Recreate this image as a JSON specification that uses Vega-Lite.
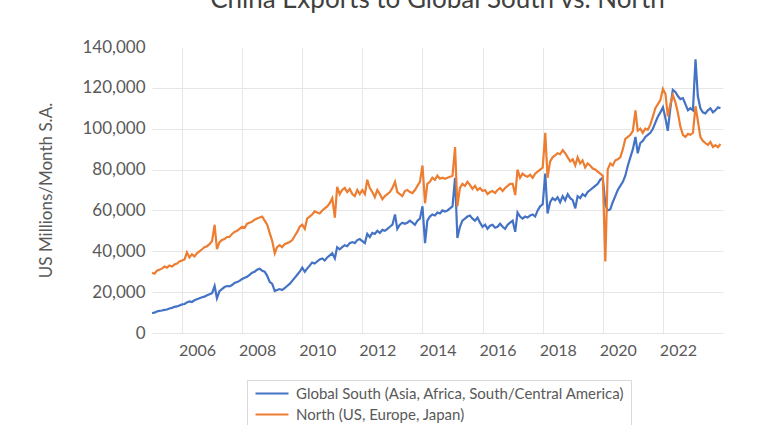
{
"$schema": "https://vega.github.io/schema/vega-lite/v6.json",
"width": 571, "height": 286,
"autosize": {"type": "none"},
"padding": {"left": 152, "top": 47, "right": 45, "bottom": 92},
"background": "white",
"title": {"text": "China Exports to Global South vs. North", "fontSize": 26, "font": "Lato", "color": "#404040", "fontWeight": "normal", "anchor": "middle", "offset": 25},
"data": {"values": [
{"d":"2005-01","s":9800,"n":29500},{"d":"2005-02","s":10000,"n":29000},{"d":"2005-03","s":10500,"n":30500},{"d":"2005-04","s":10800,"n":31000},{"d":"2005-05","s":11000,"n":31500},{"d":"2005-06","s":11300,"n":32500},{"d":"2005-07","s":11500,"n":32000},{"d":"2005-08","s":12000,"n":33000},{"d":"2005-09","s":12300,"n":32500},{"d":"2005-10","s":12800,"n":33500},{"d":"2005-11","s":13000,"n":34000},{"d":"2005-12","s":13500,"n":35000},
{"d":"2006-01","s":14000,"n":35500},{"d":"2006-02","s":14200,"n":36000},{"d":"2006-03","s":15000,"n":39500},{"d":"2006-04","s":15500,"n":37000},{"d":"2006-05","s":15200,"n":38500},{"d":"2006-06","s":16000,"n":37500},{"d":"2006-07","s":16500,"n":39000},{"d":"2006-08","s":17000,"n":40000},{"d":"2006-09","s":17500,"n":41000},{"d":"2006-10","s":17800,"n":42000},{"d":"2006-11","s":18500,"n":42500},{"d":"2006-12","s":19000,"n":43500},
{"d":"2007-01","s":19500,"n":45000},{"d":"2007-02","s":23000,"n":53000},{"d":"2007-03","s":17000,"n":41000},{"d":"2007-04","s":20500,"n":44500},{"d":"2007-05","s":21500,"n":45500},{"d":"2007-06","s":22500,"n":46000},{"d":"2007-07","s":23000,"n":47000},{"d":"2007-08","s":22800,"n":47000},{"d":"2007-09","s":23500,"n":48500},{"d":"2007-10","s":24500,"n":49500},{"d":"2007-11","s":25000,"n":50000},{"d":"2007-12","s":25500,"n":51000},
{"d":"2008-01","s":26500,"n":52000},{"d":"2008-02","s":27000,"n":51500},{"d":"2008-03","s":27500,"n":53500},{"d":"2008-04","s":28500,"n":54000},{"d":"2008-05","s":29500,"n":54500},{"d":"2008-06","s":30000,"n":55500},{"d":"2008-07","s":31000,"n":56000},{"d":"2008-08","s":31500,"n":56500},{"d":"2008-09","s":30500,"n":57000},{"d":"2008-10","s":30000,"n":55000},{"d":"2008-11","s":28000,"n":53000},{"d":"2008-12","s":25000,"n":49000},
{"d":"2009-01","s":24000,"n":45000},{"d":"2009-02","s":20500,"n":39000},{"d":"2009-03","s":21000,"n":42000},{"d":"2009-04","s":21500,"n":43000},{"d":"2009-05","s":21000,"n":42000},{"d":"2009-06","s":22000,"n":43500},{"d":"2009-07","s":23000,"n":44000},{"d":"2009-08","s":24000,"n":44500},{"d":"2009-09","s":25500,"n":45500},{"d":"2009-10","s":27000,"n":47500},{"d":"2009-11","s":28500,"n":49500},{"d":"2009-12","s":30000,"n":52000},
{"d":"2010-01","s":32000,"n":53000},{"d":"2010-02","s":30000,"n":51000},{"d":"2010-03","s":31500,"n":56000},{"d":"2010-04","s":33000,"n":57000},{"d":"2010-05","s":34500,"n":58000},{"d":"2010-06","s":34000,"n":59500},{"d":"2010-07","s":35000,"n":59000},{"d":"2010-08","s":36000,"n":58500},{"d":"2010-09","s":36500,"n":60000},{"d":"2010-10","s":35500,"n":61000},{"d":"2010-11","s":37000,"n":62000},{"d":"2010-12","s":38000,"n":63500},
{"d":"2011-01","s":39000,"n":66000},{"d":"2011-02","s":36500,"n":56500},{"d":"2011-03","s":42000,"n":71500},{"d":"2011-04","s":41000,"n":68000},{"d":"2011-05","s":42000,"n":70000},{"d":"2011-06","s":43000,"n":71000},{"d":"2011-07","s":42500,"n":69000},{"d":"2011-08","s":44000,"n":70500},{"d":"2011-09","s":44500,"n":68000},{"d":"2011-10","s":44000,"n":67000},{"d":"2011-11","s":45500,"n":70000},{"d":"2011-12","s":46000,"n":68000},
{"d":"2012-01","s":45000,"n":70000},{"d":"2012-02","s":44000,"n":68000},{"d":"2012-03","s":48500,"n":75000},{"d":"2012-04","s":47000,"n":71000},{"d":"2012-05","s":49000,"n":69000},{"d":"2012-06","s":48500,"n":66500},{"d":"2012-07","s":50000,"n":70000},{"d":"2012-08","s":49000,"n":68000},{"d":"2012-09","s":50500,"n":65500},{"d":"2012-10","s":50000,"n":67000},{"d":"2012-11","s":51000,"n":68000},{"d":"2012-12","s":52000,"n":69000},
{"d":"2013-01","s":53000,"n":71000},{"d":"2013-02","s":58000,"n":74000},{"d":"2013-03","s":51000,"n":69000},{"d":"2013-04","s":53000,"n":68000},{"d":"2013-05","s":54000,"n":67000},{"d":"2013-06","s":53500,"n":69500},{"d":"2013-07","s":54000,"n":70000},{"d":"2013-08","s":55000,"n":69000},{"d":"2013-09","s":54000,"n":68500},{"d":"2013-10","s":53000,"n":70000},{"d":"2013-11","s":55000,"n":72000},{"d":"2013-12","s":56000,"n":74000},
{"d":"2014-01","s":62000,"n":82000},{"d":"2014-02","s":44000,"n":63500},{"d":"2014-03","s":55000,"n":73000},{"d":"2014-04","s":57000,"n":74000},{"d":"2014-05","s":58000,"n":76000},{"d":"2014-06","s":57500,"n":75000},{"d":"2014-07","s":59000,"n":77000},{"d":"2014-08","s":58500,"n":75500},{"d":"2014-09","s":60000,"n":76000},{"d":"2014-10","s":59500,"n":75500},{"d":"2014-11","s":60000,"n":76000},{"d":"2014-12","s":61000,"n":76500},
{"d":"2015-01","s":62000,"n":77000},{"d":"2015-02","s":76000,"n":91000},{"d":"2015-03","s":46500,"n":62000},{"d":"2015-04","s":52000,"n":71000},{"d":"2015-05","s":55000,"n":73000},{"d":"2015-06","s":56000,"n":72000},{"d":"2015-07","s":57000,"n":74000},{"d":"2015-08","s":57500,"n":72500},{"d":"2015-09","s":56000,"n":70500},{"d":"2015-10","s":55000,"n":72000},{"d":"2015-11","s":56500,"n":70000},{"d":"2015-12","s":54000,"n":71000},
{"d":"2016-01","s":52000,"n":69500},{"d":"2016-02","s":53000,"n":70000},{"d":"2016-03","s":51000,"n":68000},{"d":"2016-04","s":52500,"n":69000},{"d":"2016-05","s":53000,"n":69500},{"d":"2016-06","s":51500,"n":68500},{"d":"2016-07","s":52000,"n":70000},{"d":"2016-08","s":53500,"n":71000},{"d":"2016-09","s":52000,"n":69500},{"d":"2016-10","s":51000,"n":71000},{"d":"2016-11","s":53000,"n":72000},{"d":"2016-12","s":54000,"n":73000},
{"d":"2017-01","s":55000,"n":73000},{"d":"2017-02","s":49500,"n":67500},{"d":"2017-03","s":59000,"n":80000},{"d":"2017-04","s":57000,"n":76000},{"d":"2017-05","s":56000,"n":78000},{"d":"2017-06","s":57000,"n":77000},{"d":"2017-07","s":56500,"n":76500},{"d":"2017-08","s":57500,"n":77500},{"d":"2017-09","s":58000,"n":76000},{"d":"2017-10","s":57000,"n":78000},{"d":"2017-11","s":60000,"n":79000},{"d":"2017-12","s":62000,"n":80000},
{"d":"2018-01","s":63000,"n":81000},{"d":"2018-02","s":78000,"n":98000},{"d":"2018-03","s":58500,"n":76000},{"d":"2018-04","s":64000,"n":84000},{"d":"2018-05","s":66000,"n":86000},{"d":"2018-06","s":65000,"n":87000},{"d":"2018-07","s":66500,"n":88000},{"d":"2018-08","s":64000,"n":87500},{"d":"2018-09","s":67000,"n":89500},{"d":"2018-10","s":65000,"n":88000},{"d":"2018-11","s":68000,"n":86000},{"d":"2018-12","s":66000,"n":84000},
{"d":"2019-01","s":65000,"n":85000},{"d":"2019-02","s":61000,"n":82000},{"d":"2019-03","s":67000,"n":86000},{"d":"2019-04","s":66000,"n":83000},{"d":"2019-05","s":68000,"n":84500},{"d":"2019-06","s":67000,"n":81000},{"d":"2019-07","s":69000,"n":83000},{"d":"2019-08","s":70000,"n":82000},{"d":"2019-09","s":71000,"n":80500},{"d":"2019-10","s":72000,"n":80000},{"d":"2019-11","s":73000,"n":79000},{"d":"2019-12","s":75000,"n":78000},
{"d":"2020-01","s":76000,"n":77000},{"d":"2020-02","s":63000,"n":35000},{"d":"2020-03","s":60000,"n":80000},{"d":"2020-04","s":60500,"n":83000},{"d":"2020-05","s":64000,"n":82000},{"d":"2020-06","s":67000,"n":84500},{"d":"2020-07","s":70000,"n":85000},{"d":"2020-08","s":72000,"n":86000},{"d":"2020-09","s":74000,"n":90000},{"d":"2020-10","s":77000,"n":95000},{"d":"2020-11","s":82000,"n":96000},{"d":"2020-12","s":86000,"n":97000},
{"d":"2021-01","s":90000,"n":99000},{"d":"2021-02","s":96000,"n":109000},{"d":"2021-03","s":88000,"n":99000},{"d":"2021-04","s":93000,"n":100000},{"d":"2021-05","s":94000,"n":98000},{"d":"2021-06","s":96000,"n":100000},{"d":"2021-07","s":97000,"n":99500},{"d":"2021-08","s":98000,"n":102000},{"d":"2021-09","s":100000,"n":106000},{"d":"2021-10","s":103000,"n":110000},{"d":"2021-11","s":106000,"n":112000},{"d":"2021-12","s":108000,"n":114000},
{"d":"2022-01","s":110500,"n":119500},{"d":"2022-02","s":105000,"n":117000},{"d":"2022-03","s":99000,"n":106000},{"d":"2022-04","s":110000,"n":112000},{"d":"2022-05","s":119000,"n":116500},{"d":"2022-06","s":118000,"n":113000},{"d":"2022-07","s":116000,"n":108000},{"d":"2022-08","s":114500,"n":101000},{"d":"2022-09","s":115000,"n":97000},{"d":"2022-10","s":112000,"n":96000},{"d":"2022-11","s":109000,"n":97500},{"d":"2022-12","s":110000,"n":97000},
{"d":"2023-01","s":109000,"n":98000},{"d":"2023-02","s":134000,"n":111000},{"d":"2023-03","s":116000,"n":104000},{"d":"2023-04","s":110000,"n":96000},{"d":"2023-05","s":108000,"n":94000},{"d":"2023-06","s":107500,"n":93000},{"d":"2023-07","s":109000,"n":92000},{"d":"2023-08","s":110000,"n":93500},{"d":"2023-09","s":108000,"n":91000},{"d":"2023-10","s":109000,"n":92000},{"d":"2023-11","s":110500,"n":91000},{"d":"2023-12","s":110000,"n":92500}
]},
"transform": [{"fold": ["s", "n"], "as": ["series", "value"]}],
"mark": {"type": "line", "strokeWidth": 2.2},
"encoding": {
  "x": {"field": "d", "type": "temporal",
    "scale": {"type": "utc", "domain": [{"year": 2005, "month": 1, "date": 1, "utc": true}, {"year": 2024, "month": 1, "date": 1, "utc": true}]},
    "axis": {"values": [{"year": 2006, "utc": true}, {"year": 2008, "utc": true}, {"year": 2010, "utc": true}, {"year": 2012, "utc": true}, {"year": 2014, "utc": true}, {"year": 2016, "utc": true}, {"year": 2018, "utc": true}, {"year": 2020, "utc": true}, {"year": 2022, "utc": true}],
      "format": "%Y", "formatType": "utc", "title": null, "domain": false, "ticks": false, "grid": true, "gridColor": "#e6e6e6",
      "labelOffset": 15, "labelPadding": 9, "labelFont": "Lato", "labelFontSize": 16, "labelColor": "#595959"}},
  "y": {"field": "value", "type": "quantitative", "scale": {"domain": [0, 140000], "nice": false},
    "axis": {"values": [0, 20000, 40000, 60000, 80000, 100000, 120000, 140000], "format": ",d",
      "title": "US Millions/Month S.A.", "titleFont": "Lato", "titleFontSize": 17, "titleFontWeight": "normal", "titleColor": "#595959", "titlePadding": 26,
      "domain": false, "ticks": false, "grid": true,
      "gridColor": {"condition": {"test": "datum.value === 140000", "value": "transparent"}, "value": "#e6e6e6"},
      "labelPadding": 7, "labelFont": "Lato", "labelFontSize": 17, "labelColor": "#595959"}},
  "color": {"field": "series", "type": "nominal",
    "scale": {"domain": ["s", "n"], "range": ["#4472C4", "#ED7D31"]},
    "legend": {"orient": "none", "legendX": 95, "legendY": 333, "title": null, "direction": "vertical",
      "strokeColor": "#d9d9d9", "fillColor": "white", "padding": 6, "rowPadding": 5,
      "symbolType": "M-1,0H5.6", "symbolSize": 100, "symbolStrokeWidth": 2, "labelOffset": 28,
      "labelFont": "Lato", "labelFontSize": 15, "labelColor": "#595959", "labelLimit": 500,
      "labelExpr": "datum.label == 's' ? 'Global South (Asia, Africa, South/Central America)' : 'North (US, Europe, Japan)'"}}
},
"config": {"view": {"stroke": null}}
}
